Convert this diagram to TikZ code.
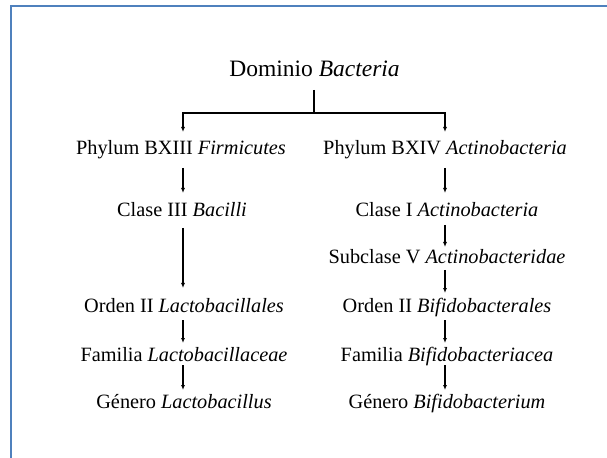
\documentclass[tikz,border=0pt]{standalone}
\usepackage{fontspec}
\setmainfont{Liberation Serif}
\usetikzlibrary{arrows.meta}
\definecolor{frameblue}{RGB}{79,129,189}
\tikzset{
  lbl/.style={anchor=base, inner sep=0pt, font=\fontsize{20.3bp}{24bp}\selectfont},
  toplbl/.style={anchor=base, inner sep=0pt, font=\fontsize{23.5bp}{28bp}\selectfont},
  conn/.style={draw=black, line width=1.2bp},
  arr/.style={conn, -{Latex[length=5bp,width=4bp]}},
  bluerule/.style={draw=frameblue, line width=2.8bp}
}
\begin{document}
\begin{tikzpicture}[x=1bp, y=-1bp]
\useasboundingbox (0,0) rectangle (607,458);
\draw[bluerule] (11,458) -- (11,6) -- (607,6);

\node[toplbl] (dom) at (314.5,77) {Dominio \textit{Bacteria}};

\node[lbl] (phL) at (181,155) {Phylum BXIII \textit{Firmicutes}};
\node[lbl] (phR) at (445,155) {Phylum BXIV \textit{Actinobacteria}};

\node[lbl] (clL) at (182,217) {Clase III \textit{Bacilli}};
\node[lbl] (clR) at (447,217) {Clase I \textit{Actinobacteria}};

\node[lbl] (scR) at (447,264) {Subclase V \textit{Actinobacteridae}};

\node[lbl] (orL) at (184,312) {Orden II \textit{Lactobacillales}};
\node[lbl] (orR) at (447,312) {Orden II \textit{Bifidobacterales}};

\node[lbl] (faL) at (184,361) {Familia \textit{Lactobacillaceae}};
\node[lbl] (faR) at (447,361) {Familia \textit{Bifidobacteriacea}};

\node[lbl] (geL) at (184,408) {Género \textit{Lactobacillus}};
\node[lbl] (geR) at (447,408) {Género \textit{Bifidobacterium}};

% tree connector from the domain
\coordinate (jn) at (314,113);
\coordinate (xL) at (183,0);
\coordinate (xR) at (445,0);
\draw[conn] (jn |- 0,90) -- (jn);
\draw[arr] (jn) -| (xL |- 0,132);
\draw[arr] (jn) -| (xR |- 0,132);

% left column
\draw[arr] (xL |- 0,168) -- (xL |- 0,193);
\draw[arr] (xL |- 0,228) -- (xL |- 0,288);
\draw[arr] (xL |- 0,320) -- (xL |- 0,343);
\draw[arr] (xL |- 0,365) -- (xL |- 0,390);

% right column
\draw[arr] (xR |- 0,168) -- (xR |- 0,193);
\draw[arr] (xR |- 0,225) -- (xR |- 0,247);
\draw[arr] (xR |- 0,270) -- (xR |- 0,293);
\draw[arr] (xR |- 0,320) -- (xR |- 0,343);
\draw[arr] (xR |- 0,365) -- (xR |- 0,390);
\end{tikzpicture}
\end{document}
